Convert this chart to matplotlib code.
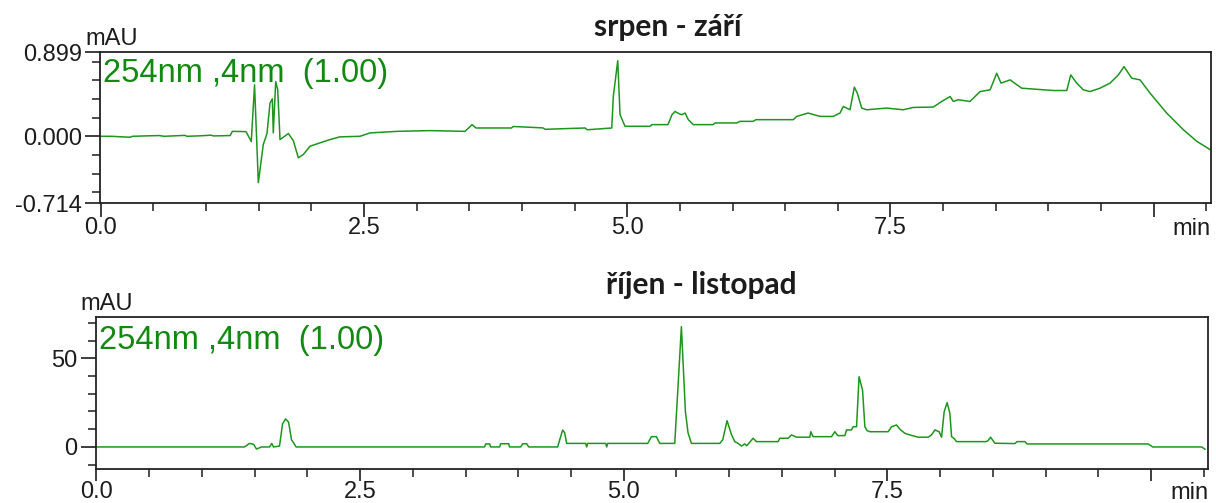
import matplotlib
matplotlib.use("Agg")
import matplotlib.pyplot as plt
from matplotlib.ticker import FixedLocator

plt.rcParams['font.family'] = ['Liberation Sans', 'DejaVu Sans']

# ---- srpen - zari trace (time in min, signal in mAU) ----
t_top = [0.00, 0.10, 0.28, 0.30, 0.45, 0.56, 0.60, 0.80, 0.82, 0.94, 1.05, 1.07, 1.23,
         1.25, 1.38, 1.43, 1.461, 1.497, 1.544, 1.579, 1.608, 1.630, 1.639, 1.662, 1.681,
         1.703, 1.782, 1.829, 1.877, 1.924, 1.988, 2.083, 2.177, 2.272, 2.462, 2.557,
         2.814, 3.127, 3.459, 3.498, 3.526, 3.564, 3.90, 3.92, 4.20, 4.22, 4.60, 4.62,
         4.853, 4.868, 4.910, 4.932, 4.979, 5.216, 5.235, 5.387, 5.425, 5.454, 5.492,
         5.518, 5.550, 5.580, 5.628, 5.815, 5.834, 6.040, 6.071, 6.195, 6.223, 6.577,
         6.610, 6.717, 6.831, 6.955, 7.021, 7.052, 7.116, 7.157, 7.185, 7.227, 7.274,
         7.464, 7.622, 7.717, 7.907, 7.987, 8.066, 8.097, 8.144, 8.255, 8.351, 8.446,
         8.509, 8.550, 8.636, 8.746, 9.047, 9.174, 9.212, 9.269, 9.332, 9.395, 9.490,
         9.585, 9.664, 9.718, 9.791, 9.870, 9.965, 10.123, 10.281, 10.408, 10.535]
v_top = [0.000, 0.000, -0.010, 0.000, 0.005, 0.008, 0.000, 0.010, 0.000, 0.005, 0.012,
         0.004, 0.008, 0.053, 0.050, -0.056, 0.551, -0.496, -0.088, 0.029, 0.356, 0.401,
         0.036, 0.586, 0.497, -0.035, 0.029, -0.046, -0.230, -0.195, -0.106, -0.070,
         -0.035, -0.006, 0.000, 0.036, 0.053, 0.061, 0.053, 0.093, 0.125, 0.089, 0.089,
         0.105, 0.090, 0.075, 0.089, 0.070, 0.089, 0.426, 0.809, 0.231, 0.107, 0.107,
         0.125, 0.125, 0.231, 0.266, 0.242, 0.231, 0.249, 0.178, 0.125, 0.125, 0.143,
         0.143, 0.160, 0.160, 0.178, 0.178, 0.213, 0.249, 0.213, 0.213, 0.249, 0.320,
         0.284, 0.526, 0.462, 0.302, 0.284, 0.302, 0.284, 0.309, 0.313, 0.373, 0.426,
         0.373, 0.391, 0.373, 0.479, 0.497, 0.675, 0.569, 0.604, 0.515, 0.490, 0.490,
         0.657, 0.569, 0.497, 0.479, 0.515, 0.569, 0.657, 0.746, 0.622, 0.604, 0.462,
         0.249, 0.071, -0.053, -0.142]

# ---- rijen - listopad trace ----
t_bot = [0.000, 1.404, 1.452, 1.490, 1.518, 1.565, 1.641, 1.663, 1.679, 1.736, 1.765,
         1.793, 1.822, 1.850, 1.869, 1.893, 3.681, 3.691, 3.729, 3.738, 3.824, 3.833,
         3.909, 3.918, 4.023, 4.042, 4.080, 4.099, 4.374, 4.393, 4.421, 4.440, 4.459,
         4.639, 4.649, 4.658, 4.829, 4.839, 4.848, 5.228, 5.263, 5.310, 5.342, 5.484,
         5.515, 5.547, 5.585, 5.610, 5.642, 5.911, 5.939, 5.980, 6.022, 6.053, 6.085,
         6.117, 6.148, 6.167, 6.227, 6.259, 6.464, 6.480, 6.559, 6.591, 6.639, 6.765,
         6.774, 6.796, 6.971, 7.002, 7.030, 7.097, 7.113, 7.160, 7.176, 7.208, 7.232,
         7.265, 7.287, 7.308, 7.334, 7.508, 7.540, 7.587, 7.619, 7.666, 7.713, 7.792,
         7.887, 7.919, 7.951, 7.991, 8.014, 8.039, 8.067, 8.093, 8.109, 8.131, 8.157,
         8.435, 8.454, 8.479, 8.520, 8.710, 8.729, 8.805, 8.824, 9.974, 10.016, 10.481,
         10.512]
v_bot = [0.0, 0.0, 2.0, 1.5, -1.2, 0.0, 0.0, 2.0, 0.0, 0.5, 13.0, 15.8, 14.0, 4.0, 2.4,
         0.0, 0.0, 1.7, 1.7, 0.0, 0.0, 1.8, 1.8, 0.0, 0.0, 1.8, 1.8, 0.0, 0.0, 4.0, 9.5,
         8.0, 2.0, 2.0, 0.0, 2.0, 2.0, 0.0, 2.0, 2.0, 5.8, 5.8, 2.0, 2.0, 34.0, 67.8, 20.0,
         8.0, 2.0, 2.0, 4.0, 14.8, 7.0, 3.0, 2.0, 0.5, 1.7, 0.7, 4.9, 3.0, 3.0, 4.9, 4.9,
         6.8, 5.5, 5.5, 8.6, 5.8, 5.8, 8.6, 6.4, 6.4, 9.6, 9.6, 11.4, 11.4, 39.6, 32.0,
         11.4, 9.2, 8.6, 8.6, 11.4, 12.4, 10.0, 7.7, 6.8, 5.5, 5.5, 6.8, 9.6, 8.6, 5.5,
         19.9, 25.0, 19.0, 5.8, 4.9, 3.0, 3.0, 3.5, 5.5, 2.1, 1.9, 3.0, 3.0, 1.7, 1.7,
         0.0, 0.0, -1.3]

titles = ["srpen - září", "říjen - listopad"]
channel = "254nm ,4nm  (1.00)"
x_major = [0.0, 2.5, 5.0, 7.5, 10.0]
x_labels = ["0.0", "2.5", "5.0", "7.5", ""]
x_minor = [0.5, 1.0, 1.5, 2.0, 3.0, 3.5, 4.0, 4.5, 5.5, 6.0, 6.5, 7.0, 8.0, 8.5, 9.0, 9.5, 10.5]
y_top_major = [0.899, 0.0, -0.714]
y_top_labels = ["0.899", "0.000", "-0.714"]
y_top_minor = [-0.6, -0.4, -0.2, 0.2, 0.4, 0.6, 0.8]
y_bot_major = [50, 0]
y_bot_labels = ["50", "0"]
y_bot_minor = [-10, 10, 20, 30, 40, 60, 70]

line_col = "#1e961e"
text_col = "#128a12"
ink = "#1c1c1c"

fig = plt.figure(figsize=(12.16, 5.03), dpi=100)
ax1 = fig.add_axes([0.0822, 0.5964, 0.9137, 0.2996])
ax2 = fig.add_axes([0.0787, 0.0670, 0.9150, 0.3022])


def style(ax, ymaj, ylab, ymin, ylim, txt_y, xlen, min_y):
    ax.set_xlim(-0.007, 10.544)
    ax.set_ylim(*ylim)
    ax.xaxis.set_major_locator(FixedLocator(x_major))
    ax.set_xticklabels(x_labels)
    ax.xaxis.set_minor_locator(FixedLocator(x_minor))
    ax.yaxis.set_major_locator(FixedLocator(ymaj))
    ax.set_yticklabels(ylab)
    ax.yaxis.set_minor_locator(FixedLocator(ymin))
    ax.tick_params(axis='both', which='major', direction='out', labelsize=17,
                   colors=ink, width=1.2)
    ax.tick_params(axis='x', which='major', length=xlen, pad=0.2)
    ax.tick_params(axis='y', which='major', length=11, pad=2)
    ax.tick_params(axis='both', which='minor', direction='out', length=6, width=1.1, colors=ink)
    for s in ax.spines.values():
        s.set_linewidth(1.3)
        s.set_color("#222222")
    ax.text(0.003, txt_y, channel, transform=ax.transAxes, fontsize=23.5,
            color=text_col, va='baseline', ha='left')
    ax.text(-0.0135, 1.05, "mAU", transform=ax.transAxes, fontsize=17,
            color=ink, va='baseline', ha='left')
    ax.text(1.0, min_y, "min", transform=ax.transAxes, fontsize=17,
            color=ink, va='baseline', ha='right')


ax1.plot(t_top, v_top, color=line_col, lw=1.1)
style(ax1, y_top_major, y_top_labels, y_top_minor, (-0.714, 0.899), 0.803, 10, -0.212)
ax2.plot(t_bot, v_bot, color=line_col, lw=1.1)
style(ax2, y_bot_major, y_bot_labels, y_bot_minor, (-12.6, 73.1), 0.789, 8.5, -0.198)

fig.text(0.549, 0.9284, titles[0], fontsize=21.5, fontweight='bold', family='Lato',
         ha='center', va='baseline', color=ink)
fig.text(0.577, 0.4149, titles[1], fontsize=21.5, fontweight='bold', family='Lato',
         ha='center', va='baseline', color=ink)

fig.savefig("out.png", dpi=100)
